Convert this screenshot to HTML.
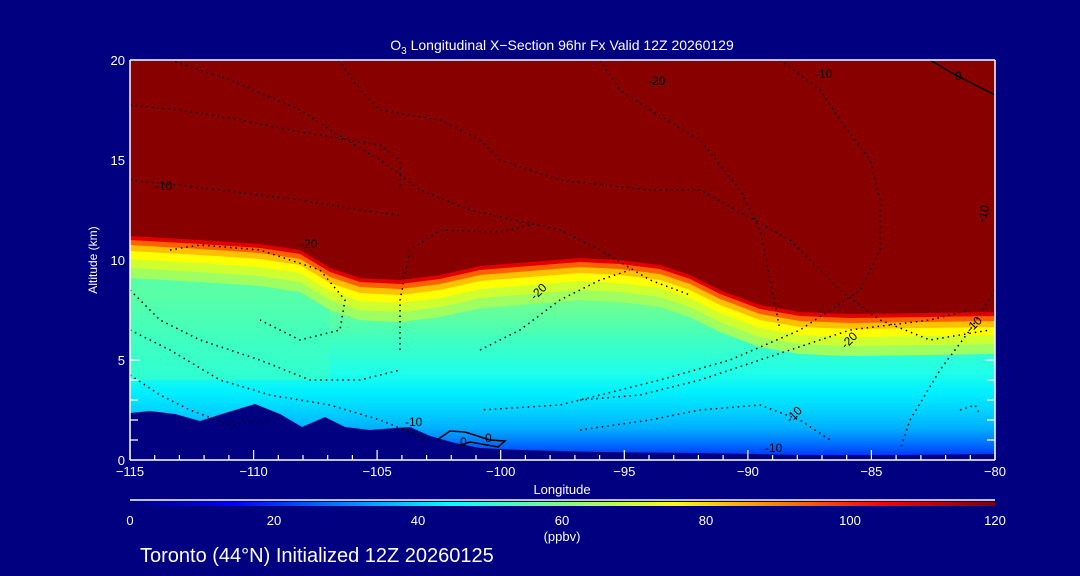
<!DOCTYPE html>
<html><head><meta charset="utf-8"><style>
html,body{margin:0;padding:0;background:#000080;}
svg{display:block;font-family:"Liberation Sans",sans-serif;}
</style></head><body>
<svg width="1080" height="576" viewBox="0 0 1080 576" xmlns="http://www.w3.org/2000/svg">
<defs>
<linearGradient id="low" x1="0" y1="60" x2="0" y2="460" gradientUnits="userSpaceOnUse">
<stop offset="0.58" stop-color="#80ff80"/>
<stop offset="0.70" stop-color="#40ffc0"/>
<stop offset="0.78" stop-color="#20ffe8"/>
<stop offset="0.83" stop-color="#00f0ff"/>
<stop offset="0.88" stop-color="#00d0ff"/>
<stop offset="0.92" stop-color="#00b0ff"/>
<stop offset="0.95" stop-color="#0080ff"/>
<stop offset="0.98" stop-color="#0048ff"/>
<stop offset="1" stop-color="#0020e0"/>
</linearGradient>
<linearGradient id="jet" x1="0" x2="1" y1="0" y2="0">
<stop offset="0" stop-color="#000080"/>
<stop offset="0.12" stop-color="#0000ff"/>
<stop offset="0.37" stop-color="#00ffff"/>
<stop offset="0.5" stop-color="#80ff80"/>
<stop offset="0.63" stop-color="#ffff00"/>
<stop offset="0.87" stop-color="#ff0000"/>
<stop offset="1" stop-color="#800000"/>
</linearGradient>
<clipPath id="pc"><rect x="130" y="60" width="865" height="400"/></clipPath>
</defs>
<rect width="1080" height="576" fill="#000080"/>
<g clip-path="url(#pc)">
<rect x="130" y="60" width="865" height="400" fill="url(#low)"/>
<path d="M130,270 L300,280 L330,300 L330,380 L130,380 Z" fill="#40ffc0" opacity="0.6"/>
<g id="bands">
<path transform="translate(0,42)" fill="#a0ff60" d="M130,0 L130,236 L200,240 L260,244 L300,250 L330,268 L360,278 L400,280 L440,275 L480,266 L530,262 L580,258 L620,260 L660,265 L690,275 L720,290 L760,305 L800,312 L850,314 L995,312 L995,0 Z"/>
<path transform="translate(0,32)" fill="#d0ff30" d="M130,0 L130,236 L200,240 L260,244 L300,250 L330,268 L360,278 L400,280 L440,275 L480,266 L530,262 L580,258 L620,260 L660,265 L690,275 L720,290 L760,305 L800,312 L850,314 L995,312 L995,0 Z"/>
<path transform="translate(0,23)" fill="#ffff00" d="M130,0 L130,236 L200,240 L260,244 L300,250 L330,268 L360,278 L400,280 L440,275 L480,266 L530,262 L580,258 L620,260 L660,265 L690,275 L720,290 L760,305 L800,312 L850,314 L995,312 L995,0 Z"/>
<path transform="translate(0,15)" fill="#ffc000" d="M130,0 L130,236 L200,240 L260,244 L300,250 L330,268 L360,278 L400,280 L440,275 L480,266 L530,262 L580,258 L620,260 L660,265 L690,275 L720,290 L760,305 L800,312 L850,314 L995,312 L995,0 Z"/>
<path transform="translate(0,9)" fill="#ff6000" d="M130,0 L130,236 L200,240 L260,244 L300,250 L330,268 L360,278 L400,280 L440,275 L480,266 L530,262 L580,258 L620,260 L660,265 L690,275 L720,290 L760,305 L800,312 L850,314 L995,312 L995,0 Z"/>
<path transform="translate(0,4)" fill="#e00000" d="M130,0 L130,236 L200,240 L260,244 L300,250 L330,268 L360,278 L400,280 L440,275 L480,266 L530,262 L580,258 L620,260 L660,265 L690,275 L720,290 L760,305 L800,312 L850,314 L995,312 L995,0 Z"/>
<path fill="#880000" d="M130,0 L130,236 L200,240 L260,244 L300,250 L330,268 L360,278 L400,280 L440,275 L480,266 L530,262 L580,258 L620,260 L660,265 L690,275 L720,290 L760,305 L800,312 L850,314 L995,312 L995,0 Z"/>
</g>
<path fill="#000080" d="M130,460 L130,413 L150,411 L175,414 L200,421 L225,413 L255,404 L280,414 L302,427 L325,417 L345,427 L370,430 L395,428 L410,427 L430,436 L455,443 L480,448 L520,450 L600,452 L700,453 L800,455 L900,455 L995,454 L995,460 Z"/>
<g fill="none" stroke="#000" stroke-width="1.5" stroke-dasharray="1.5 4">
<path d="M170,60 L230,80 L300,110 L330,130 L380,160 L420,190 L470,210 L560,230 L600,250 L650,280 L690,295"/>
<path d="M338,60 L360,90 L380,110 L440,120 L480,140 L500,160 L560,180 L650,190 L700,190 L790,240 L840,290 L880,320 L930,340 L990,330"/>
<path d="M130,105 L180,110 L230,118 L290,130 L380,145 L400,160 L400,190"/>
<path d="M130,180 L220,190 L300,200 L360,210 L400,215"/>
<path d="M600,60 L620,90 L650,110 L700,140 L740,190 L760,230 L770,280 L780,330"/>
<path d="M780,60 L820,90 L840,120 L870,160 L880,200 L880,250 L860,290 L800,330 L730,360 L660,380 L600,395 L560,405 L480,410"/>
<path d="M130,290 L160,320 L200,340 L260,360 L310,380 L360,380 L400,370"/>
<path d="M170,250 L200,245 L260,250 L320,270 L345,300 L340,330 L300,340 L260,320"/>
<path d="M400,350 L400,300 L410,250 L440,230 L500,232 L530,225"/>
<path d="M130,330 L170,350 L220,380 L270,395 L330,405 L380,420 L430,440"/>
<path d="M480,350 L520,330 L560,300 L600,280 L630,270"/>
<path d="M130,375 L160,395 L190,410 L230,425 L270,420"/>
<path d="M580,400 L640,395 L700,380 L760,360 L850,330 L930,320 L970,310"/>
<path d="M580,430 L650,420 L700,410 L760,405 L800,420 L830,440"/>
<path d="M995,290 L970,330 L940,370 L910,420 L900,450"/>
<path d="M960,410 L975,405 L980,415"/>
</g>
<path fill="none" stroke="#000" stroke-width="1.5" d="M437,440 L450,431 L465,432 L490,440 L505,441 L498,447 L470,442 L460,445"/>
<path fill="none" stroke="#000" stroke-width="1.5" d="M930,60 L950,72 L975,85 L995,95"/>
<g font-size="12" fill="#000">
<text x="648" y="85">-20</text>
<text x="815" y="78">-10</text>
<text x="155" y="190">-10</text>
<text x="300" y="248">-20</text>
<text x="530" y="296" transform="rotate(-45 538 292)">-20</text>
<text x="840" y="345" transform="rotate(-45 848 340)">-20</text>
<text x="965" y="330" transform="rotate(-45 972 325)">-10</text>
<text x="975" y="220" transform="rotate(-75 982 215)">-10</text>
<text x="405" y="426">-10</text>
<text x="785" y="420" transform="rotate(-45 792 415)">-10</text>
<text x="765" y="452">-10</text>
<text x="485" y="442">0</text>
<text x="460" y="446">0</text>
<text x="955" y="80">0</text>
</g>
</g>
<g stroke="#fff" stroke-width="1.5" fill="none">
<line x1="130" y1="60" x2="995" y2="60"/>
<line x1="130" y1="460" x2="995" y2="460"/>
<line x1="130" y1="60" x2="130" y2="460"/>
<line x1="995" y1="60" x2="995" y2="460"/>
<line x1="130" y1="500" x2="995" y2="500"/>
</g>
<g stroke="#fff" stroke-width="1.2">
<path d="M130,460v-10M253.6,460v-10M377.1,460v-10M500.7,460v-10M624.3,460v-10M747.9,460v-10M871.4,460v-10M995,460v-10"/>
<path d="M154.7,460v-5M179.4,460v-5M204.1,460v-5M228.9,460v-5M278.3,460v-5M303,460v-5M327.7,460v-5M352.4,460v-5M401.9,460v-5M426.6,460v-5M451.3,460v-5M476,460v-5M525.4,460v-5M550.1,460v-5M574.9,460v-5M599.6,460v-5M649,460v-5M673.7,460v-5M698.4,460v-5M723.1,460v-5M772.6,460v-5M797.3,460v-5M822,460v-5M846.7,460v-5M896.1,460v-5M920.9,460v-5M945.6,460v-5M970.3,460v-5"/>
<path d="M130,440h8M130,420h8M130,400h8M130,380h8M130,360h10"/>
<path d="M995,440h-8M995,420h-8M995,400h-8M995,380h-8M995,360h-10"/>
</g>
<rect x="130" y="502" width="865" height="4" fill="url(#jet)"/>
<g fill="#fff" font-size="13" text-anchor="middle">
<text x="130" y="476">−115</text>
<text x="253.6" y="476">−110</text>
<text x="377.1" y="476">−105</text>
<text x="500.7" y="476">−100</text>
<text x="624.3" y="476">−95</text>
<text x="747.9" y="476">−90</text>
<text x="871.4" y="476">−85</text>
<text x="995" y="476">−80</text>
<text x="562" y="494">Longitude</text>
<text x="130" y="525">0</text>
<text x="274" y="525">20</text>
<text x="418" y="525">40</text>
<text x="562" y="525">60</text>
<text x="706" y="525">80</text>
<text x="850" y="525">100</text>
<text x="995" y="525">120</text>
<text x="562" y="541">(ppbv)</text>
<text x="562" y="50" font-size="14">O<tspan font-size="10" dy="4">3</tspan><tspan dy="-4"> Longitudinal X−Section 96hr  Fx Valid 12Z 20260129</tspan></text>
</g>
<g fill="#fff" font-size="13" text-anchor="end">
<text x="125" y="465">0</text>
<text x="125" y="365">5</text>
<text x="125" y="265">10</text>
<text x="125" y="165">15</text>
<text x="125" y="65">20</text>
</g>
<text x="97" y="260" fill="#fff" font-size="12" text-anchor="middle" transform="rotate(-90 97 260)">Altitude (km)</text>
<text x="140" y="562" fill="#fff" font-size="20">Toronto (44°N) Initialized 12Z 20260125</text>
</svg>
</body></html>
